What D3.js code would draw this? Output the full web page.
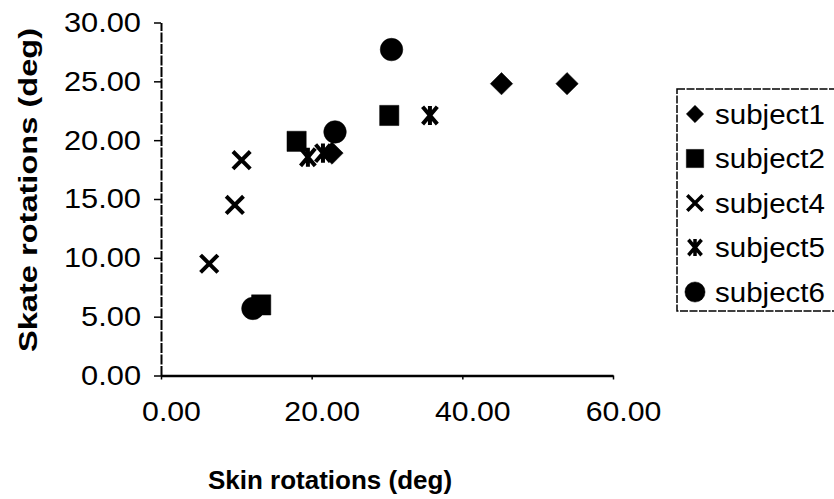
<!DOCTYPE html>
<html>
<head>
<meta charset="utf-8">
<script src="https://cdn.jsdelivr.net/npm/d3@7"></script>
<style>
  html, body { margin: 0; padding: 0; background: #fff; }
  svg { display: block; }
  text { font-family: "Liberation Sans", Arial, sans-serif; fill: #000; }
</style>
</head>
<body>
<svg id="chart" width="834" height="499"></svg>
<script>
// ---- data ----
const seriesNames = ["subject1", "subject2", "subject4", "subject5", "subject6"];
const subject1X = [22.7, 45.2, 53.9];
const subject1Y = [18.9, 24.8, 24.8];
const subject2X = [18.0, 30.3, 13.3];
const subject2Y = [19.9, 22.1, 6.0];
const subject4X = [10.7, 9.8, 6.4];
const subject4Y = [18.3, 14.5, 9.5];
const subject5X = [35.7, 19.5, 21.5];
const subject5Y = [22.1, 18.55, 18.9];
const subject6X = [30.6, 23.1, 12.2];
const subject6Y = [27.7, 20.7, 5.7];
const xTicks = [0, 20, 40, 60];
const yTicks = [0, 5, 10, 15, 20, 25, 30];
const xTitle = "Skin rotations (deg)";
const yTitle = "Skate rotations (deg)";

const seriesX = [subject1X, subject2X, subject4X, subject5X, subject6X];
const seriesY = [subject1Y, subject2Y, subject4Y, subject5Y, subject6Y];

// ---- custom symbol types ----
const diamondSym = { draw(ctx, size) { const r = Math.sqrt(size) / 2;
  ctx.moveTo(0, -r); ctx.lineTo(r, 0); ctx.lineTo(0, r); ctx.lineTo(-r, 0); ctx.closePath(); } };
const squareSym = { draw(ctx, size) { const r = Math.sqrt(size) / 2;
  ctx.rect(-r, -r * 1.05, 2 * r, 2 * r * 1.05); } };
const circleSym = { draw(ctx, size) { const r = Math.sqrt(size / Math.PI);
  ctx.moveTo(r, 0); ctx.arc(0, 0, r, 0, 2 * Math.PI); } };
const timesSym = { draw(ctx, size) { const r = Math.sqrt(size) / 2;
  ctx.moveTo(-r, -r); ctx.lineTo(r, r); ctx.moveTo(-r, r); ctx.lineTo(r, -r); } };
const starSym = { draw(ctx, size) { const r = Math.sqrt(size) / 2;
  ctx.moveTo(-r * 0.85, -r); ctx.lineTo(r * 0.85, r); ctx.moveTo(-r * 0.85, r); ctx.lineTo(r * 0.85, -r);
  ctx.moveTo(0, -r * 1.1); ctx.lineTo(0, r * 1.1); } };

const markerTypes = [diamondSym, squareSym, timesSym, starSym, circleSym];
const markerFilled = [true, true, false, false, true];
const plotSizes = [500, 370, 300, 300, 400];
const legendSizes = [300, 300, 240, 240, 320];

// ---- layout ----
const svg = d3.select("#chart");
const x = d3.scaleLinear().domain([0, 60]).range([161, 613]);
const y = d3.scaleLinear().domain([0, 30]).range([375.5, 22.5]);
const fmt = d3.format(".2f");

// y axis
const gy = svg.append("g").attr("transform", "translate(161,0)")
  .call(d3.axisLeft(y).tickValues(yTicks).tickFormat(fmt).tickSize(7).tickSizeOuter(0).tickPadding(13));
gy.select(".domain").attr("stroke", "#000").attr("stroke-width", 2).attr("stroke-dasharray", "10,1.5");
gy.selectAll(".tick line").attr("stroke", "#000").attr("stroke-width", 1.5);
gy.selectAll(".tick text").attr("font-size", 28).attr("font-family", "Liberation Sans, Arial, sans-serif").attr("fill", "#000")
  .each(function () { const w = this.getComputedTextLength(); d3.select(this).attr("textLength", w * 1.1).attr("lengthAdjust", "spacingAndGlyphs"); });

// x axis
const gx = svg.append("g").attr("transform", "translate(0,375.5)")
  .call(d3.axisBottom(x).tickValues(xTicks).tickFormat(fmt).tickSize(4).tickSizeOuter(0).tickPadding(22));
gx.select(".domain").attr("stroke", "#000").attr("stroke-width", 2.5);
gx.selectAll(".tick line").attr("stroke", "#000").attr("stroke-width", 1.5);
gx.selectAll(".tick text").attr("font-size", 28).attr("font-family", "Liberation Sans, Arial, sans-serif").attr("fill", "#000")
  .attr("dx", 10)
  .each(function () { const w = this.getComputedTextLength(); d3.select(this).attr("textLength", w * 1.08).attr("lengthAdjust", "spacingAndGlyphs"); });

// titles
svg.append("text").attr("x", 330).attr("y", 489).attr("text-anchor", "middle")
  .attr("font-size", 26).attr("font-weight", "bold").text(xTitle);
svg.append("text").attr("transform", "translate(37,190) rotate(-90)").attr("text-anchor", "middle")
  .attr("font-size", 26).attr("font-weight", "bold")
  .attr("textLength", 324).attr("lengthAdjust", "spacingAndGlyphs").text(yTitle);

// points
seriesNames.forEach((name, i) => {
  const pts = seriesX[i].map((v, j) => [v, seriesY[i][j]]);
  const sym = d3.symbol().type(markerTypes[i]).size(plotSizes[i]);
  svg.append("g").selectAll("path").data(pts).join("path")
    .attr("transform", d => `translate(${x(d[0])},${y(d[1])})`)
    .attr("d", sym)
    .attr("fill", markerFilled[i] ? "#000" : "none")
    .attr("stroke", "#000")
    .attr("stroke-width", markerFilled[i] ? 0.5 : 4);
});

// legend
const lg = svg.append("g");
lg.append("rect").attr("x", 677).attr("y", 89).attr("width", 170).attr("height", 222)
  .attr("fill", "none").attr("stroke", "#000").attr("stroke-width", 1.5).attr("stroke-dasharray", "8,1.5");
seriesNames.forEach((name, i) => {
  const cy = 114 + i * 44.5;
  lg.append("path").attr("transform", `translate(695,${cy})`)
    .attr("d", d3.symbol().type(markerTypes[i]).size(legendSizes[i]))
    .attr("fill", markerFilled[i] ? "#000" : "none")
    .attr("stroke", "#000").attr("stroke-width", markerFilled[i] ? 0.5 : 3.5);
  lg.append("text").attr("x", 715).attr("y", cy + 9.5).attr("font-size", 27)
    .attr("textLength", 110).attr("lengthAdjust", "spacingAndGlyphs").text(name);
});
</script>
</body>
</html>
